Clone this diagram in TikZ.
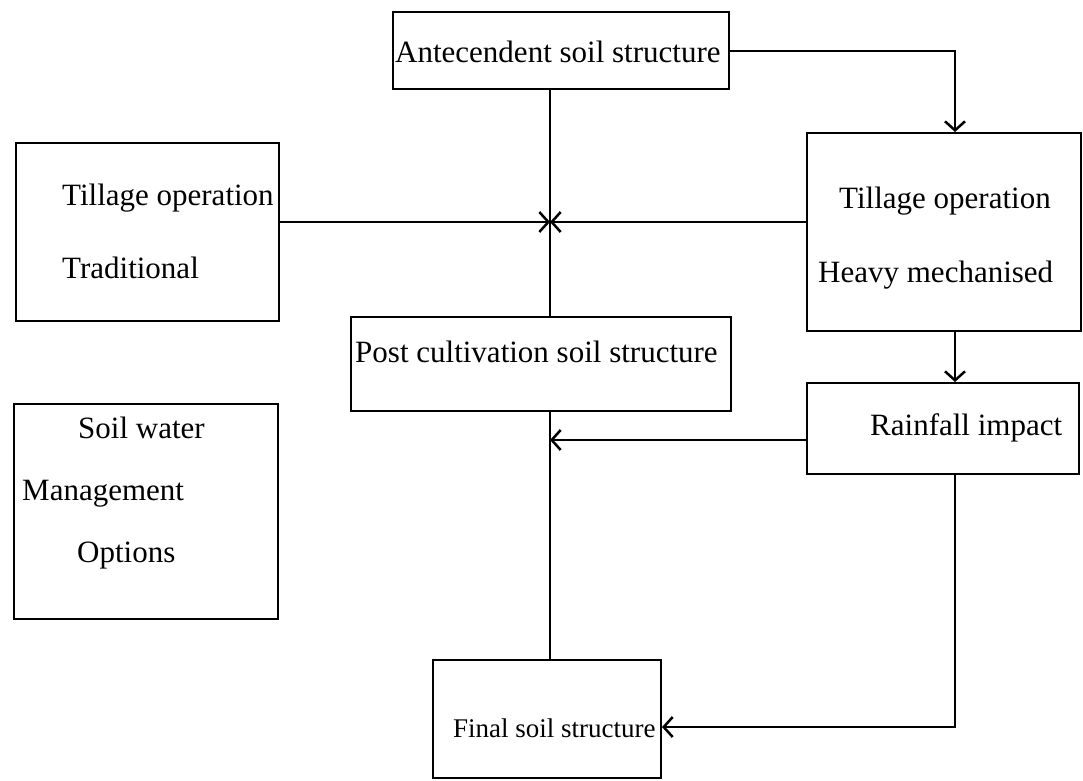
\documentclass[tikz,border=0pt]{standalone}
\usepackage{fontspec}
\setmainfont{Liberation Serif}
\usetikzlibrary{arrows.meta,calc}
\begin{document}
\begin{tikzpicture}[x=1pt,y=-1pt,
  box/.style={draw,line width=2pt,rectangle,inner sep=0pt,anchor=north west},
  txt/.style={anchor=base west,inner sep=0pt,font=\fontsize{31}{36}\selectfont},
  conn/.style={line width=2pt},
  arr/.style={conn,-{Straight Barb[length=9pt,width=20pt,line width=2.5pt]}}]
\useasboundingbox (0,0) rectangle (1083,780);
% boxes
\node[box,minimum width=336pt,minimum height=77pt] (ante) at (392,11) {};
\node[box,minimum width=263pt,minimum height=178pt] (trad) at (15,142) {};
\node[box,minimum width=274pt,minimum height=198pt] (rtill) at (806,132) {};
\node[box,minimum width=380pt,minimum height=94pt] (post) at (350,316) {};
\node[box,minimum width=272pt,minimum height=91pt] (rain) at (806,382) {};
\node[box,minimum width=264pt,minimum height=215pt] (swm) at (13,403) {};
\node[box,minimum width=228pt,minimum height=118pt] (final) at (432,659) {};
% texts
\node[txt] (t1) at (395,62) {Antecendent soil structure};
\node[txt] (t2) at (62,205) {Tillage operation};
\node[txt] (t3) at (62,278) {Traditional};
\node[txt] (t4) at (839,208) {Tillage operation};
\node[txt] (t5) at (818,282) {Heavy mechanised};
\node[txt] (t6) at (355,362) {Post cultivation soil structure};
\node[txt] (t7) at (870,435) {Rainfall impact};
\node[txt] (t8) at (78,438) {Soil water};
\node[txt] (t9) at (22,500) {Management};
\node[txt] (t10) at (77,562) {Options};
\node[txt,font=\fontsize{27}{32}\selectfont] (t11) at (453,737) {Final soil structure};
% helper coordinates
\coordinate (vc) at (550,0);
\coordinate (vx) at (955,0);
\coordinate (cross) at (550,222);
\coordinate (ry) at (0,440);
\coordinate (fy) at (0,727);
% connectors
\draw[arr] (ante.east) -| (vx |- rtill.north);
\draw[conn] (vc |- ante.south) -- (vc |- post.north);
\draw[arr] (trad.east |- cross) -- (cross);
\draw[arr] (rtill.west |- cross) -- (cross);
\draw[arr] (vx |- rtill.south) -- (vx |- rain.north);
\draw[arr] (rain.west |- ry) -- (vc |- ry);
\draw[conn] (vc |- post.south) -- (vc |- final.north);
\draw[arr] (vx |- rain.south) |- (final.east |- fy);
\end{tikzpicture}
\end{document}
